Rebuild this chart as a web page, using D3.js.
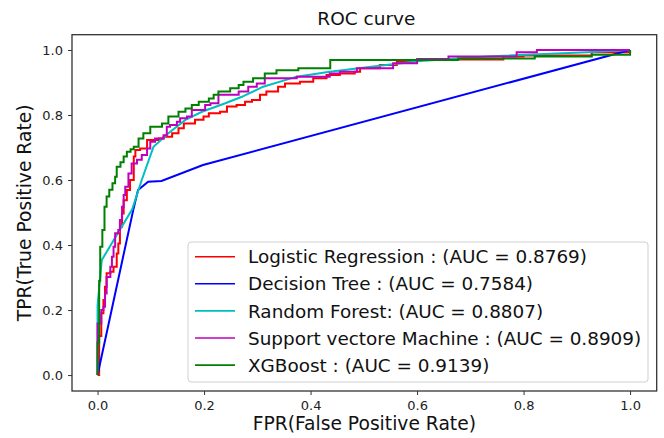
<!DOCTYPE html>
<html>
<head>
<meta charset="utf-8">
<script src="https://cdn.jsdelivr.net/npm/d3@7/dist/d3.min.js"></script>
<style>
  html, body { margin: 0; padding: 0; background: #fff; }
  svg { display: block; font-family: "DejaVu Sans", sans-serif; }
</style>
</head>
<body>
<svg id="chart" width="664" height="438"></svg>
<script>
// ---------- data ----------
const title = "ROC curve";
const xLabel = "FPR(False Positive Rate)";
const yLabel = "TPR(True Positive Rate)";
const xTicks = [0.0, 0.2, 0.4, 0.6, 0.8, 1.0];
const yTicks = [0.0, 0.2, 0.4, 0.6, 0.8, 1.0];

const modelNames = [
  "Logistic Regression : (AUC = 0.8769)",
  "Decision Tree : (AUC = 0.7584)",
  "Random Forest: (AUC = 0.8807)",
  "Support vectore Machine : (AUC = 0.8909)",
  "XGBoost : (AUC = 0.9139)"
];

// [fpr, tpr] pairs
const logisticRoc = [
  [0,0],[0.003,0.12],[0.007,0.19],[0.011,0.231],[0.014,0.272],[0.017,0.313],[0.024,0.318],
  [0.030,0.333],[0.036,0.374],[0.039,0.405],[0.042,0.456],[0.046,0.497],[0.049,0.538],
  [0.055,0.569],[0.061,0.600],[0.068,0.672],[0.071,0.692],[0.080,0.697],[0.093,0.723],
  [0.115,0.728],[0.124,0.733],[0.140,0.744],[0.152,0.759],[0.162,0.774],[0.183,0.785],
  [0.199,0.795],[0.209,0.805],[0.230,0.810],[0.243,0.826],[0.261,0.831],[0.277,0.841],
  [0.290,0.846],[0.305,0.862],[0.317,0.872],[0.339,0.887],[0.352,0.897],[0.380,0.902],
  [0.405,0.913],[0.430,0.923],[0.455,0.928],[0.483,0.933],[0.493,0.944],[0.530,0.954],
  [0.562,0.964],[0.587,0.969],[0.668,0.971],[0.762,0.980],[0.800,0.983],[0.928,0.993],[1,1]
];
const decisionTreeRoc = [
  [0,0],[0.067,0.508],[0.076,0.569],[0.095,0.595],[0.120,0.597],[0.198,0.646],[1,1]
];
const randomForestRoc = [
  [0,0],[0,0.215],[0.008,0.354],[0.065,0.510],[0.083,0.600],[0.105,0.702],[0.133,0.744],
  [0.165,0.785],[0.196,0.810],[0.240,0.836],[0.271,0.856],[0.311,0.887],[0.374,0.918],
  [0.436,0.933],[0.518,0.949],[0.606,0.966],[0.731,0.980],[0.919,0.993],[1,1]
];
const svmRoc = [
  [0,0],[0,0.108],[0,0.159],[0.007,0.200],[0.011,0.210],[0.014,0.251],[0.017,0.302],
  [0.024,0.333],[0.027,0.364],[0.030,0.395],[0.033,0.436],[0.039,0.446],[0.042,0.477],
  [0.046,0.518],[0.049,0.554],[0.052,0.579],[0.058,0.620],[0.064,0.651],[0.074,0.662],
  [0.083,0.677],[0.093,0.697],[0.099,0.718],[0.108,0.728],[0.124,0.738],[0.130,0.764],
  [0.136,0.769],[0.149,0.779],[0.155,0.790],[0.168,0.795],[0.177,0.815],[0.202,0.831],
  [0.212,0.836],[0.227,0.862],[0.265,0.872],[0.283,0.887],[0.299,0.897],[0.314,0.913],
  [0.374,0.918],[0.436,0.928],[0.455,0.933],[0.487,0.944],[0.555,0.959],[0.600,0.972],
  [0.659,0.980],[0.787,0.993],[0.825,1.0],[1,1]
];
const xgboostRoc = [
  [0,0],[0,0.10],[0.003,0.29],[0.005,0.395],[0.009,0.446],[0.013,0.518],[0.017,0.549],
  [0.022,0.570],[0.028,0.590],[0.033,0.610],[0.036,0.641],[0.043,0.655],[0.049,0.672],
  [0.055,0.687],[0.062,0.695],[0.068,0.702],[0.077,0.728],[0.086,0.744],[0.099,0.764],
  [0.121,0.774],[0.133,0.795],[0.152,0.810],[0.165,0.820],[0.177,0.831],[0.190,0.841],
  [0.209,0.851],[0.218,0.862],[0.227,0.872],[0.249,0.882],[0.265,0.892],[0.274,0.902],
  [0.292,0.913],[0.314,0.928],[0.336,0.938],[0.377,0.944],[0.437,0.969],[0.677,0.974],
  [0.821,0.980],[0.928,0.985],[1,1]
];

// ---------- styling / layout ----------
const colors = ["#ff0000", "#0000ff", "#00bfbf", "#bf00bf", "#008000"];
const stepped = [true, false, false, true, true];
const series = [logisticRoc, decisionTreeRoc, randomForestRoc, svmRoc, xgboostRoc];

const plot = { left: 72, right: 656.7, top: 34.7, bottom: 391 };
const x = d3.scaleLinear().domain([-0.048, 1.05]).range([plot.left, plot.right]);
const y = d3.scaleLinear().domain([-0.049, 1.047]).range([plot.bottom, plot.top]);

const svg = d3.select("#chart");

svg.append("defs").append("clipPath").attr("id", "clip")
  .append("rect").attr("x", plot.left).attr("y", plot.top)
  .attr("width", plot.right - plot.left).attr("height", plot.bottom - plot.top);

const g = svg.append("g").attr("clip-path", "url(#clip)");
series.forEach((data, i) => {
  const line = d3.line()
    .x(d => x(d[0])).y(d => y(d[1]))
    .curve(stepped[i] ? d3.curveStepAfter : d3.curveLinear);
  g.append("path").datum(data)
    .attr("d", line)
    .attr("fill", "none")
    .attr("stroke", colors[i])
    .attr("stroke-width", 2)
    .attr("stroke-linejoin", "miter");
});

const fmt = d3.format(".1f");
const xAxis = svg.append("g").attr("transform", `translate(0,${plot.bottom})`)
  .call(d3.axisBottom(x).tickValues(xTicks).tickFormat(fmt).tickSize(4).tickPadding(6));
const yAxis = svg.append("g").attr("transform", `translate(${plot.left},0)`)
  .call(d3.axisLeft(y).tickValues(yTicks).tickFormat(fmt).tickSize(4).tickPadding(5));
[xAxis, yAxis].forEach(a => {
  a.select(".domain").remove();
  a.selectAll(".tick line").attr("stroke", "#333").attr("stroke-width", 1);
  a.selectAll(".tick text").attr("fill", "#222").style("font-size", "13px")
    .style("font-family", "DejaVu Sans");
});

svg.append("rect")
  .attr("x", plot.left).attr("y", plot.top)
  .attr("width", plot.right - plot.left).attr("height", plot.bottom - plot.top)
  .attr("fill", "none").attr("stroke", "#333").attr("stroke-width", 1.3);

svg.append("text").attr("x", (plot.left + plot.right) / 2 + 2).attr("y", 25)
  .attr("text-anchor", "middle").style("font-size", "18.5px").attr("fill", "#111").text(title);
svg.append("text").attr("x", (plot.left + plot.right) / 2).attr("y", 430)
  .attr("text-anchor", "middle").style("font-size", "18.7px").attr("fill", "#111").text(xLabel);
svg.append("text")
  .attr("transform", `translate(31,${(plot.top + plot.bottom) / 2}) rotate(-90)`)
  .attr("text-anchor", "middle").style("font-size", "18.7px").attr("fill", "#111").text(yLabel);

const leg = svg.append("g");
leg.append("rect").attr("x", 188).attr("y", 242).attr("width", 460).attr("height", 140)
  .attr("rx", 3).attr("fill", "#fff").attr("fill-opacity", 0.85)
  .attr("stroke", "#d0d0d0").attr("stroke-width", 1);
modelNames.forEach((name, i) => {
  const cy = 256.7 + i * 27.1;
  leg.append("line").attr("x1", 195).attr("x2", 235).attr("y1", cy).attr("y2", cy)
    .attr("stroke", colors[i]).attr("stroke-width", 1.6);
  leg.append("text").attr("x", 248).attr("y", cy).attr("dy", "0.36em")
    .style("font-size", "18.4px").attr("fill", "#111").text(name);
});
</script>
</body>
</html>
